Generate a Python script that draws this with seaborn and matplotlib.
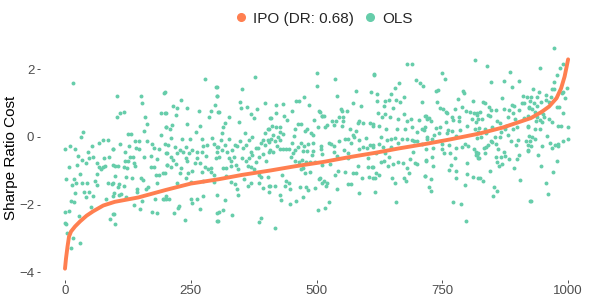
import seaborn as sns
import matplotlib
matplotlib.use('Agg')
import matplotlib.pyplot as plt
from matplotlib.lines import Line2D
import pandas as pd

# IPO cost, sorted ascending
ipo_idx = [0, 2, 5, 8, 12, 20, 30, 43, 56, 76, 99, 146, 200, 250, 306, 353, 409,
           456, 513, 560, 616, 663, 719, 766, 823, 870, 926, 947, 962, 977, 986,
           993, 997, 1000]
ipo_val = [-3.9, -3.6, -3.25, -2.95, -2.8, -2.65, -2.5, -2.33, -2.2, -2.03, -1.92,
           -1.79, -1.57, -1.38, -1.25, -1.12, -0.99, -0.87, -0.74, -0.61, -0.47,
           -0.34, -0.2, -0.07, 0.1, 0.28, 0.56, 0.74, 0.9, 1.15, 1.44, 1.79, 2.08, 2.3]

# OLS cost for the same instances
ols_idx = [
    15, 35, 31, 9, 1, 20, 76, 85, 68, 53, 95, 26, 46, 48, 55, 34, 8, 23, 41, 63,
    78, 88, 67, 75, 72, 80, 96, 64, 29, 3, 17, 22, 13, 33, 43, 60, 63, 86, 95, 38,
    20, 42, 48, 56, 82, 96, 11, 18, 52, 1, 7, 27, 2, 0, 5, 15, 29, 12, 89, 96,
    104, 152, 154, 198, 109, 118, 103, 160, 163, 190, 200, 200, 158, 125, 131, 190,
    140, 148, 163, 173, 109, 127, 96, 141, 147, 176, 186, 200, 120, 171, 183, 130,
    135, 158, 119, 125, 138, 99, 105, 117, 123, 139, 170, 176, 202, 100, 121, 133,
    152, 156, 180, 186, 195, 93, 108, 117, 105, 143, 165, 162, 182, 98, 112, 122,
    108, 144, 178, 194, 200, 137, 153, 150, 173, 182, 97, 99,
    278, 302, 197, 303, 230, 215, 223, 243, 266, 298, 291, 199, 220, 286, 305, 242,
    213, 200, 208, 268, 260, 210, 233, 249, 272, 293, 199, 205, 218, 240, 275, 283,
    296, 303, 229, 235, 247, 253, 263, 273, 203, 223, 211, 215, 240, 262, 281, 300,
    221, 242, 258, 268, 203, 210, 230, 278, 284, 291, 253, 229, 245, 272, 291, 296,
    240, 199, 251, 275, 223, 296, 201, 207, 197, 250, 263, 275, 253, 227, 225, 268,
    217, 303, 238, 303,
    378, 352, 300, 302, 347, 397, 350, 361, 381, 306, 370, 375, 408, 325, 319, 345,
    315, 404, 312, 357, 371, 398, 325, 310, 348, 365, 393, 403, 319, 337, 341, 359,
    390, 398, 406, 304, 302, 313, 332, 323, 353, 380, 383, 369, 372, 408, 307, 325,
    335, 352, 365, 385, 394, 330, 359, 380, 400, 314, 320, 330, 339, 363, 370, 343,
    375, 320, 329, 337, 341, 343, 355, 370, 363, 385, 385, 390, 393, 408, 403, 302,
    319, 307, 315, 304, 331, 390, 386,
    500, 501, 475, 459, 465, 419, 433, 485, 504, 510, 420, 452, 435, 409, 442, 494,
    463, 470, 412, 420, 428, 481, 478, 503, 406, 427, 457, 488, 414, 424, 433, 409,
    455, 493, 417, 428, 452, 469, 475, 463, 422, 483, 493, 508, 406, 414, 427, 433,
    440, 445, 457, 473, 482, 492, 453, 450, 491, 457, 465, 472, 480, 487, 496, 510,
    469, 473, 478, 487, 504, 510, 432, 440, 445, 438, 447, 406, 417, 406, 468, 480,
    483, 496, 427, 430, 473, 460, 448, 503, 418,
    614, 537, 540, 578, 608, 573, 589, 548, 551, 560, 507, 510, 515, 545, 553, 530,
    538, 552, 585, 582, 593, 606, 613, 516, 520, 534, 550, 567, 578, 572, 575, 599,
    557, 563, 585, 544, 524, 529, 534, 569, 606, 612, 509, 534, 555, 563, 585, 592,
    600, 510, 540, 563, 603, 527, 582, 610, 603, 537, 542, 557, 572, 579, 590, 605,
    613, 507, 514, 520, 518, 563, 569, 540, 585, 524, 517,
    679, 690, 614, 663, 697, 706, 711, 655, 620, 647, 665, 673, 620, 636, 644, 658,
    710, 634, 652, 622, 637, 673, 630, 645, 661, 680, 687, 703, 716, 612, 625, 638,
    659, 675, 689, 699, 710, 715, 629, 640, 647, 655, 670, 679, 689, 693, 700, 612,
    624, 632, 647, 661, 710, 718, 637, 618, 692, 644, 635, 629, 662, 671, 685, 695,
    700, 718, 612, 642, 651, 680, 618, 683, 625, 617, 650, 673, 677, 655, 715, 617,
    657,
    815, 750, 755, 737, 742, 791, 793, 739, 782, 811, 746, 752, 757, 760, 775, 789,
    797, 805, 813, 818, 717, 724, 728, 719, 770, 783, 783, 772, 809, 817, 757, 714,
    737, 746, 761, 770, 785, 799, 815, 820, 734, 744, 759, 777, 719, 720, 730, 750,
    763, 778, 790, 795, 801, 812, 820, 732, 749, 765, 754, 817, 730, 775, 821, 717,
    732, 767, 800, 763, 777, 800, 810, 820, 778, 716, 728, 724, 727, 795, 772, 787,
    798,
    839, 885, 847, 872, 889, 903, 868, 830, 834, 842, 819, 825, 847, 856, 872, 883,
    889, 893, 910, 919, 909, 913, 923, 902, 890, 840, 845, 829, 820, 859, 864, 881,
    895, 913, 877, 899, 920, 849, 822, 834, 874, 890, 837, 866, 880, 827, 854, 819,
    865, 901, 923, 847, 849, 856, 840, 837, 833, 887, 897, 917, 920, 860, 817, 834,
    872, 921, 819, 822, 875, 857, 866, 903, 899, 883, 858, 862, 869, 893, 845, 824,
    830, 852, 859, 850, 905, 925,
    972, 990, 944, 984, 977, 972, 930, 942, 967, 972, 990, 997, 957, 965, 927, 939,
    987, 993, 924, 932, 946, 923, 929, 938, 956, 962, 977, 982, 935, 946, 990, 921,
    939, 950, 952, 962, 944, 948, 968, 937, 979, 986, 999, 935, 945, 921, 959, 929,
    935, 1000, 989, 924, 926, 949, 964, 974, 979, 980, 967, 921, 940, 977, 946, 969,
    957, 960, 926,
]
ols_val = [
    1.59, 0.14, -0.01, -0.27, -0.35, -0.35, -0.09, -0.09, -0.17, -0.27, -0.35, -0.56,
    -0.43, -0.63, -0.6, -0.68, -0.9, -0.83, -0.76, -0.76, -0.63, -0.6, -0.88, -0.88,
    -0.96, -0.86, -0.83, -1.1, -1.1, -1.25, -1.25, -1.35, -1.42, -1.37, -1.37, -1.3,
    -1.42, -1.37, -1.37, -1.62, -1.65, -1.77, -1.62, -1.75, -1.85, -1.74, -1.89, -1.92,
    -2.06, -2.21, -2.18, -2.34, -2.58, -2.56, -2.83, -3.0, -3.15, -3.3, -2.43, -2.28,
    1.22, 1.22, 1.0, 1.32, 0.72, 0.73, 0.58, 0.6, 0.38, 0.72, 0.72, 0.31, 0.19, 0.09,
    0.09, 0.05, -0.11, -0.11, -0.13, -0.21, -0.22, -0.27, -0.36, -0.32, -0.37, -0.34,
    -0.37, -0.48, -0.45, -0.55, -0.65, -0.58, -0.6, -0.6, -0.7, -0.7, -0.76, -0.86,
    -0.86, -0.88, -0.93, -0.86, -0.9, -0.88, -0.83, -1.16, -1.18, -1.2, -1.22, -1.27,
    -1.12, -1.12, -1.08, -1.39, -1.39, -1.45, -1.47, -1.54, -1.47, -1.54, -1.37, -1.65,
    -1.69, -1.79, -1.72, -1.62, -1.85, -1.84, -1.84, -2.0, -1.9, -2.14, -2.21, -2.26,
    -2.28, -2.59,
    1.71, 1.49, 1.31, 1.2, 1.1, 0.92, 0.85, 0.85, 0.78, 0.94, 0.77, 0.72, 0.65, 0.58,
    0.75, 0.39, 0.36, 0.29, 0.23, 0.33, 0.16, -0.02, -0.07, -0.07, -0.07, -0.04, -0.22,
    -0.24, -0.31, -0.31, -0.27, -0.24, -0.21, -0.29, -0.39, -0.43, -0.46, -0.39, -0.43,
    -0.43, -0.48, -0.48, -0.6, -0.68, -0.63, -0.63, -0.56, -0.63, -0.8, -0.71, -0.76,
    -0.78, -0.83, -0.88, -0.93, -0.9, -0.96, -0.93, -1.0, -1.06, -1.08, -1.05, -1.05,
    -1.13, -1.2, -1.08, -1.32, -1.3, -1.35, -1.33, -1.75, -1.85, -1.85, -1.85, -1.83,
    -1.75, -1.95, -2.04, -2.11, -2.14, -2.26, -2.24, -2.46, -2.49,
    1.77, 1.42, 1.49, 1.2, 1.05, 1.02, 0.85, 0.88, 0.83, 0.75, 0.68, 0.55, 0.55, 0.58,
    0.42, 0.45, 0.29, 0.23, 0.13, 0.13, 0.01, 0.11, -0.07, -0.09, -0.11, -0.09, -0.09,
    -0.09, -0.24, -0.24, -0.27, -0.24, -0.19, -0.24, -0.14, -0.29, -0.43, -0.39, -0.39,
    -0.43, -0.34, -0.34, -0.32, -0.43, -0.53, -0.39, -0.6, -0.63, -0.58, -0.63, -0.63,
    -0.6, -0.5, -0.7, -0.7, -0.73, -0.7, -0.93, -0.93, -0.85, -0.83, -0.86, -0.9, -0.96,
    -0.96, -1.16, -1.32, -1.4, -1.54, -1.72, -1.25, -1.37, -1.45, -1.37, -1.13, -1.18,
    -1.52, -1.45, -1.18, -1.72, -1.87, -2.21, -2.16, -2.49, -2.31, -2.41, -2.51,
    1.91, 1.51, 1.18, 1.08, 1.07, 0.94, 0.99, 0.95, 0.78, 0.62, 0.72, 0.78, 0.62, 0.55,
    0.5, 0.5, 0.39, 0.39, 0.33, 0.31, 0.29, 0.25, 0.19, 0.29, 0.23, 0.16, 0.23, 0.13,
    0.06, 0.01, 0.09, -0.07, 0.03, 0.06, -0.11, -0.09, -0.19, -0.19, -0.27, -0.31,
    -0.27, -0.21, -0.17, -0.27, -0.43, -0.43, -0.37, -0.37, -0.37, -0.37, -0.39, -0.4,
    -0.4, -0.4, -0.48, -0.58, -0.53, -0.7, -0.73, -0.68, -0.73, -0.73, -0.73, -0.83,
    -0.96, -0.93, -1.06, -1.03, -1.25, -1.35, -1.13, -1.29, -1.37, -1.45, -1.55, -1.44,
    -1.44, -1.62, -1.47, -1.47, -1.57, -1.52, -1.72, -1.87, -1.77, -1.89, -1.97, -2.16,
    -2.71,
    1.86, 1.72, 1.2, 1.37, 1.32, 1.0, 0.93, 0.83, 0.78, 0.78, 0.75, 0.62, 0.62, 0.6,
    0.6, 0.48, 0.48, 0.48, 0.48, 0.4, 0.42, 0.4, 0.33, 0.29, 0.36, 0.36, 0.33, 0.23,
    0.19, 0.06, 0.01, -0.04, -0.07, -0.07, -0.09, -0.12, -0.17, -0.22, -0.27, -0.19,
    -0.24, -0.29, -0.37, -0.43, -0.39, -0.46, -0.37, -0.29, -0.34, -0.5, -0.56, -0.63,
    -0.63, -0.8, -0.86, -0.88, -0.9, -1.13, -1.0, -1.03, -1.08, -1.08, -1.2, -1.18,
    -1.22, -1.22, -1.29, -1.35, -1.45, -1.39, -1.39, -1.55, -1.65, -1.92, -2.11,
    2.15, 2.15, 1.84, 1.61, 1.69, 1.61, 1.51, 1.44, 1.27, 1.27, 1.05, 1.18, 1.07, 1.07,
    1.1, 1.1, 1.04, 0.92, 0.85, 0.7, 0.68, 0.68, 0.58, 0.6, 0.52, 0.48, 0.53, 0.5, 0.62,
    0.39, 0.33, 0.23, 0.23, 0.23, 0.31, 0.16, 0.23, 0.29, -0.01, -0.09, -0.07, -0.04,
    -0.06, -0.06, -0.09, -0.11, -0.11, -0.24, -0.21, -0.31, -0.29, -0.17, -0.21, -0.37,
    -0.48, -0.48, -0.43, -0.6, -0.7, -0.73, -0.73, -0.78, -0.66, -0.78, -0.8, -0.7,
    -0.9, -0.86, -0.8, -0.91, -1.06, -1.06, -1.13, -1.22, -1.22, -1.2, -1.29, -1.35,
    -1.16, -1.64, -1.92,
    2.28, 1.89, 1.72, 1.37, 1.39, 1.37, 1.31, 1.03, 1.12, 1.07, 0.85, 0.82, 0.75, 0.7,
    0.82, 0.88, 0.78, 0.75, 0.72, 0.65, 0.62, 0.55, 0.48, 0.52, 0.58, 0.58, 0.47, 0.5,
    0.52, 0.45, 0.45, 0.21, 0.26, 0.29, 0.21, 0.19, 0.21, 0.33, 0.23, 0.16, 0.06, 0.11,
    0.13, 0.04, -0.07, 0.01, -0.07, -0.21, -0.24, -0.34, -0.29, -0.21, -0.27, -0.37,
    -0.46, -0.34, -0.37, -0.48, -0.48, -0.53, -0.6, -0.61, -0.63, -0.68, -0.86, -0.83,
    -0.78, -0.98, -1.01, -1.11, -1.18, -1.2, -1.22, -1.16, -1.25, -1.49, -1.6, -1.42,
    -1.94, -1.97, -2.48,
    2.11, 1.92, 1.62, 1.67, 1.49, 1.67, 1.15, 1.05, 1.0, 0.9, 0.7, 0.75, 0.8, 0.8, 0.82,
    0.8, 0.95, 0.92, 1.21, 1.18, 1.02, 1.0, 0.9, 0.8, 0.72, 0.65, 0.62, 0.52, 0.53,
    0.48, 0.42, 0.6, 0.52, 0.55, 0.33, 0.29, 0.33, 0.29, 0.26, 0.23, 0.23, 0.23, 0.11,
    0.16, 0.06, 0.01, 0.01, -0.02, -0.01, -0.09, 0.03, -0.11, -0.14, -0.21, -0.24,
    -0.29, -0.32, -0.11, -0.24, -0.11, -0.24, -0.37, -0.43, -0.46, -0.43, -0.39, -0.53,
    -0.63, -0.56, -0.58, -0.6, -0.53, -0.66, -0.66, -0.73, -0.86, -0.8, -0.91, -1.0,
    -1.22, -1.29, -1.47, -1.59, -1.75, -1.27, -1.9,
    2.65, 2.15, 2.05, 2.03, 1.84, 1.64, 1.42, 1.32, 1.41, 1.42, 1.34, 1.44, 1.24, 1.18,
    1.18, 1.18, 1.29, 1.15, 1.08, 1.02, 1.05, 0.85, 0.82, 0.92, 1.1, 1.05, 0.9, 0.9,
    0.75, 0.75, 0.72, 0.62, 0.58, 0.68, 0.58, 0.53, 0.5, 0.45, 0.45, 0.48, 0.33, 0.33,
    0.31, 0.23, 0.23, 0.29, 0.03, 0.01, -0.07, -0.05, -0.11, -0.11, -0.27, -0.27,
    -0.19, -0.24, -0.27, -0.21, -0.34, -0.41, -0.53, -0.7, -0.86, -1.05, -1.37, -1.69,
    -1.9,
]

x_ticks = [0, 250, 500, 750, 1000]
y_ticks = [-4, -2, 0, 2]

ols_color = '#66cdaa'
ipo_color = '#ff7f50'

sns.set_style('white')
plt.rcParams['font.family'] = ['Liberation Sans', 'DejaVu Sans']

fig = plt.figure(figsize=(5.98, 2.99), dpi=100)
ax = fig.add_axes([0.0666, 0.0642, 0.9255, 0.8141])

ols = pd.DataFrame({'idx': ols_idx, 'val': ols_val})
ipo = pd.DataFrame({'idx': ipo_idx, 'val': ipo_val})

sns.scatterplot(data=ols, x='idx', y='val', color=ols_color, s=8, linewidth=0,
                ax=ax, zorder=2)
sns.lineplot(data=ipo, x='idx', y='val', color=ipo_color, linewidth=2.8,
             solid_capstyle='round', ax=ax, zorder=3)

ax.set_xlim(-50, 1050)
ax.set_ylim(-4.23, 2.98)
ax.set_xticks(x_ticks)
ax.set_yticks(y_ticks)
ax.set_xlabel('')
ax.set_ylabel('Sharpe Ratio Cost', fontsize=11, color='black')
ax.yaxis.set_label_coords(-0.039, 0.5)
ax.tick_params(bottom=True, left=True, length=2.5, width=0.6, color='#333333',
               labelsize=9.5, labelcolor='#4d4d4d', pad=1.5)
sns.despine(ax=ax, left=True, bottom=True)

handles = [
    Line2D([], [], marker='o', ls='', color=ipo_color, markersize=5.5, label='IPO (DR: 0.68)'),
    Line2D([], [], marker='o', ls='', color=ols_color, markersize=5.5, label='OLS'),
]
fig.legend(handles=handles, loc='center', bbox_to_anchor=(0.54, 0.938), ncol=2,
           frameon=False, fontsize=11, handletextpad=0.3, columnspacing=0.5,
           handlelength=1.0)

fig.savefig('out.png', dpi=100)
